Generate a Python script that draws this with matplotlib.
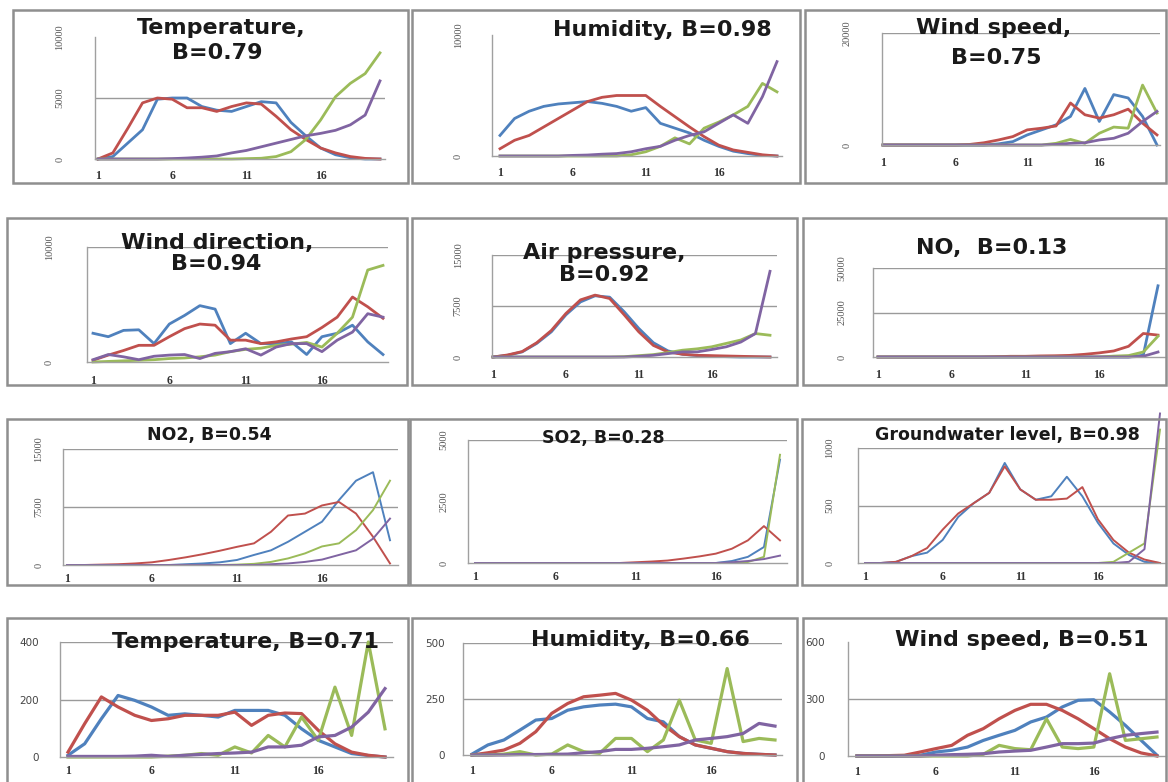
import matplotlib
matplotlib.use("Agg")
import matplotlib.pyplot as plt
from matplotlib.patches import Rectangle

W, H = 1168, 782
DAYS = list(range(1, 21))
X_TICKS = [1, 6, 11, 16]

# row 1
temp1_blue = [0, 200, 1300, 2400, 4900, 5000, 5000, 4300, 4000, 3900, 4300, 4700, 4600, 3000, 1900, 900, 350, 100, 0, 0]
temp1_red = [0, 500, 2500, 4600, 5000, 4900, 4200, 4200, 3900, 4300, 4600, 4500, 3500, 2400, 1600, 900, 500, 200, 50, 0]
temp1_green = [0, 0, 0, 0, 0, 0, 0, 0, 0, 0, 30, 60, 200, 600, 1600, 3200, 5100, 6200, 7000, 8700]
temp1_purple = [0, 0, 0, 0, 0, 30, 80, 150, 250, 500, 700, 1000, 1300, 1600, 1900, 2100, 2350, 2800, 3600, 6400]

hum1_blue = [1700, 3100, 3700, 4100, 4300, 4400, 4500, 4350, 4100, 3700, 4000, 2700, 2300, 1900, 1300, 800, 400, 200, 50, 0]
hum1_red = [600, 1300, 1700, 2400, 3100, 3800, 4500, 4850, 5000, 5000, 5000, 4100, 3250, 2400, 1600, 900, 500, 300, 100, 0]
hum1_green = [0, 0, 0, 0, 0, 0, 0, 0, 0, 100, 350, 800, 1500, 1000, 2300, 2800, 3400, 4100, 6000, 5300]
hum1_purple = [0, 0, 0, 0, 0, 50, 80, 150, 200, 350, 600, 800, 1300, 1700, 2000, 2700, 3400, 2700, 4900, 7800]

wind1_blue = [0, 0, 0, 0, 0, 0, 0, 0, 200, 600, 1800, 2700, 3600, 5100, 10100, 4200, 9000, 8400, 5100, 0]
wind1_red = [0, 0, 0, 0, 0, 0, 100, 400, 900, 1500, 2700, 3000, 3400, 7500, 5400, 4800, 5400, 6400, 3900, 1800]
wind1_green = [0, 0, 0, 0, 0, 0, 0, 0, 0, 0, 0, 0, 300, 1000, 300, 2100, 3200, 3000, 10700, 5700]
wind1_purple = [0, 0, 0, 0, 0, 0, 0, 0, 0, 0, 0, 0, 100, 300, 400, 900, 1200, 2100, 4200, 6000]

# row 2
wdir_blue = [2500, 2200, 2750, 2800, 1600, 3300, 4050, 4900, 4600, 1600, 2500, 1600, 1600, 1750, 650, 2200, 2500, 3200, 1750, 650]
wdir_red = [150, 600, 1000, 1450, 1450, 2200, 2900, 3300, 3200, 1900, 1900, 1600, 1750, 2000, 2200, 3000, 3900, 5650, 4800, 3800]
wdir_green = [0, 50, 100, 150, 200, 300, 350, 450, 600, 900, 1100, 1200, 1450, 1550, 1700, 1300, 2500, 3900, 8000, 8400]
wdir_purple = [200, 650, 450, 200, 500, 600, 650, 300, 750, 900, 1150, 600, 1300, 1600, 1600, 900, 1900, 2600, 4200, 3900]

air_blue = [0, 250, 750, 2000, 3700, 6200, 8100, 9000, 8800, 6650, 4200, 2100, 900, 400, 200, 100, 50, 0, 0, 0]
air_red = [0, 300, 800, 2100, 3900, 6400, 8400, 9100, 8600, 6200, 3700, 1700, 750, 400, 250, 200, 150, 100, 50, 0]
air_green = [0, 0, 0, 0, 0, 0, 0, 0, 0, 50, 200, 350, 650, 1000, 1200, 1500, 2000, 2500, 3450, 3200]
air_purple = [0, 0, 0, 0, 0, 0, 0, 0, 0, 0, 100, 250, 500, 750, 750, 1100, 1500, 2200, 3450, 12600]

no_blue = [0, 0, 0, 0, 0, 0, 0, 0, 0, 0, 0, 0, 0, 0, 0, 0, 0, 0, 1000, 40000]
no_red = [0, 0, 0, 0, 0, 0, 0, 0, 200, 400, 400, 600, 700, 900, 1500, 2300, 3400, 6000, 13200, 12300]
no_green = [0, 0, 0, 0, 0, 0, 0, 0, 0, 0, 0, 0, 0, 0, 0, 0, 500, 800, 2800, 11700]
no_purple = [0, 0, 0, 0, 0, 0, 0, 0, 0, 0, 0, 0, 0, 0, 0, 0, 0, 0, 400, 2800]

# row 3
no2_blue = [0, 0, 0, 0, 0, 0, 0, 100, 200, 350, 650, 1300, 1900, 3000, 4300, 5600, 8400, 10900, 12000, 3200]
no2_red = [0, 0, 50, 100, 200, 350, 650, 1000, 1400, 1850, 2350, 2800, 4300, 6400, 6650, 7700, 8150, 6650, 3650, 200]
no2_green = [0, 0, 0, 0, 0, 0, 0, 0, 0, 0, 50, 150, 400, 850, 1500, 2400, 2800, 4500, 7100, 10900]
no2_purple = [0, 0, 0, 0, 0, 0, 0, 0, 0, 0, 0, 0, 100, 200, 400, 700, 1300, 1900, 3400, 6000]

so2_blue = [0, 0, 0, 0, 0, 0, 0, 0, 0, 0, 0, 0, 0, 0, 0, 0, 80, 250, 650, 4200]
so2_red = [0, 0, 0, 0, 0, 0, 0, 0, 0, 0, 30, 60, 100, 180, 270, 380, 580, 920, 1500, 920]
so2_green = [0, 0, 0, 0, 0, 0, 0, 0, 0, 0, 0, 0, 0, 0, 0, 0, 0, 40, 250, 4400]
so2_purple = [0, 0, 0, 0, 0, 0, 0, 0, 0, 0, 0, 0, 0, 0, 0, 0, 30, 80, 160, 300]

gw_blue = [0, 0, 10, 60, 90, 200, 400, 520, 610, 870, 640, 550, 580, 750, 580, 350, 170, 70, 10, 0]
gw_red = [0, 0, 10, 60, 130, 290, 430, 520, 610, 840, 640, 550, 550, 560, 660, 380, 200, 90, 30, 0]
gw_green = [0, 0, 0, 0, 0, 0, 0, 0, 0, 0, 0, 0, 0, 0, 0, 0, 10, 90, 170, 1160]
gw_purple = [0, 0, 0, 0, 0, 0, 0, 0, 0, 0, 0, 0, 0, 0, 0, 0, 0, 10, 120, 1300]

# row 4
temp2_blue = [6, 46, 133, 214, 197, 174, 145, 150, 145, 139, 162, 162, 162, 145, 98, 58, 35, 12, 5, 0]
temp2_red = [17, 116, 209, 174, 145, 127, 133, 145, 145, 145, 156, 110, 145, 153, 151, 93, 46, 17, 6, 0]
temp2_green = [0, 0, 0, 0, 0, 0, 3, 6, 12, 6, 35, 14, 75, 35, 139, 58, 243, 75, 400, 98]
temp2_purple = [2, 2, 2, 2, 3, 6, 2, 6, 9, 12, 14, 17, 35, 35, 41, 70, 75, 104, 156, 238]

hum2_blue = [4, 45, 67, 111, 156, 163, 200, 215, 223, 227, 215, 163, 148, 82, 45, 30, 15, 7, 3, 0]
hum2_red = [0, 10, 22, 52, 104, 186, 230, 260, 267, 275, 245, 200, 134, 82, 45, 30, 15, 7, 3, 0]
hum2_green = [0, 0, 4, 15, 0, 4, 45, 15, 7, 74, 74, 15, 67, 245, 67, 52, 386, 60, 74, 67]
hum2_purple = [0, 0, 0, 2, 2, 3, 4, 10, 15, 25, 25, 30, 37, 45, 67, 74, 82, 96, 141, 129]

wind2_blue = [0, 0, 0, 2, 4, 21, 30, 47, 82, 109, 135, 179, 205, 258, 293, 296, 232, 161, 82, 4]
wind2_red = [0, 0, 2, 4, 21, 39, 56, 109, 144, 196, 240, 272, 272, 240, 196, 144, 91, 47, 16, 0]
wind2_green = [0, 0, 0, 0, 0, 0, 0, 0, 9, 56, 39, 33, 196, 47, 39, 47, 433, 82, 91, 100]
wind2_purple = [0, 0, 0, 0, 0, 4, 7, 9, 12, 21, 26, 30, 47, 65, 65, 68, 91, 109, 118, 126]

COLORS = ['#4F81BD', '#C0504D', '#9BBB59', '#8064A2']
BORDER = '#8f8f8f'
GRID = '#9a9a9a'

# layout in pixels: border (l, t, r, b), axis box (l, r, top, zero), x of day 1 and day 20
PANELS = [
    dict(series=[temp1_blue, temp1_red, temp1_green, temp1_purple], border=(13, 10, 408, 183),
         box=(95, 385, 37, 159), x1=98, x20=380, ymax=10000, yticks=[0, 5000, 10000], grid=[5000],
         titles=[("Temperature,", 221, 28), ("B=0.79", 217, 53)], tsize=16, ypad=22, xpad=8, lw=2.0),
    dict(series=[hum1_blue, hum1_red, hum1_green, hum1_purple], border=(412, 10, 800, 183),
         box=(492, 782, 35, 156), x1=500, x20=777, ymax=10000, yticks=[0, 10000], grid=[],
         titles=[("Humidity, B=0.98", 662, 30)], tsize=16, ypad=21, xpad=8, lw=2.0),
    dict(series=[wind1_blue, wind1_red, wind1_green, wind1_purple], border=(805, 10, 1166, 183),
         box=(882, 1160, 33, 145), x1=883, x20=1157, ymax=20000, yticks=[0, 20000], grid=[20000],
         titles=[("Wind speed,", 994, 28), ("B=0.75", 996, 58)], tsize=16, ypad=22, xpad=9, lw=2.0),
    dict(series=[wdir_blue, wdir_red, wdir_green, wdir_purple], border=(7, 218, 407, 385),
         box=(87, 388, 247, 362), x1=93, x20=383, ymax=10000, yticks=[0, 10000], grid=[10000],
         titles=[("Wind direction,", 217, 243), ("B=0.94", 216, 264)], tsize=16, ypad=24, xpad=9, lw=2.0),
    dict(series=[air_blue, air_red, air_green, air_purple], border=(412, 218, 797, 385),
         box=(492, 777, 255, 357), x1=493, x20=770, ymax=15000, yticks=[0, 7500, 15000], grid=[7500, 15000],
         titles=[("Air pressure,", 604, 253), ("B=0.92", 604, 275)], tsize=16, ypad=21, xpad=9, lw=2.0),
    dict(series=[no_blue, no_red, no_green, no_purple], border=(803, 218, 1166, 385),
         box=(873, 1166, 268, 357), x1=878, x20=1158, ymax=50000, yticks=[0, 25000, 50000], grid=[25000, 50000],
         titles=[("NO,  B=0.13", 992, 248)], tsize=16, ypad=19, xpad=9, lw=2.0),
    dict(series=[no2_blue, no2_red, no2_green, no2_purple], border=(7, 419, 408, 585),
         box=(63, 398, 449, 565), x1=67, x20=390, ymax=15000, yticks=[0, 7500, 15000], grid=[7500, 15000],
         titles=[("NO2, B=0.54", 209, 435)], tsize=12.5, ypad=14, xpad=6, lw=1.4),
    dict(series=[so2_blue, so2_red, so2_green, so2_purple], border=(410, 419, 797, 585),
         box=(468, 787, 440, 563), x1=475, x20=780, ymax=5000, yticks=[0, 2500, 5000], grid=[5000],
         titles=[("SO2, B=0.28", 603, 438)], tsize=12.5, ypad=14, xpad=6, lw=1.4),
    dict(series=[gw_blue, gw_red, gw_green, gw_purple], border=(802, 419, 1166, 585),
         box=(858, 1166, 448, 563), x1=865, x20=1160, ymax=1000, yticks=[0, 500, 1000], grid=[500, 1000],
         titles=[("Groundwater level, B=0.98", 1007, 435)], tsize=12.5, ypad=17, xpad=6, lw=1.4),
    dict(series=[temp2_blue, temp2_red, temp2_green, temp2_purple], border=(7, 618, 408, 790),
         box=(60, 393, 642, 757), x1=68, x20=385, ymax=400, yticks=[0, 200, 400], grid=[200, 400],
         titles=[("Temperature, B=0.71", 245, 642)], tsize=16, ypad=15, xpad=6, lw=2.3, flat=True),
    dict(series=[hum2_blue, hum2_red, hum2_green, hum2_purple], border=(412, 618, 797, 790),
         box=(463, 782, 643, 755), x1=472, x20=775, ymax=500, yticks=[0, 250, 500], grid=[250, 500],
         titles=[("Humidity, B=0.66", 640, 640)], tsize=16, ypad=13, xpad=7, lw=2.3, flat=True),
    dict(series=[wind2_blue, wind2_red, wind2_green, wind2_purple], border=(803, 618, 1166, 790),
         box=(848, 1166, 642, 756), x1=857, x20=1157, ymax=600, yticks=[0, 300, 600], grid=[300],
         titles=[("Wind speed, B=0.51", 1022, 640)], tsize=16, ypad=17, xpad=7, lw=2.3, flat=True),
]


def draw_panel(fig, p):
    bl, bt, br, bb = p['border']
    fig.add_artist(Rectangle((bl / W, 1 - bb / H), (br - bl) / W, (bb - bt) / H,
                             transform=fig.transFigure, fill=False, edgecolor=BORDER, lw=1.8))

    left, right, top, zero = p['box']
    ax = fig.add_axes([left / W, 1 - zero / H, (right - left) / W, (zero - top) / H])
    ax.patch.set_alpha(0)
    step = (p['x20'] - p['x1']) / 19.0
    ax.set_xlim(1 - (p['x1'] - left) / step, 20 + (right - p['x20']) / step)
    ax.set_ylim(0, p['ymax'])

    for val in p['grid']:
        ax.axhline(val, color=GRID, lw=1.0, zorder=0)
    for values, color in zip(p['series'], COLORS):
        ax.plot(DAYS, values, color=color, lw=p['lw'], clip_on=False, solid_joinstyle='round')

    for side in ['top', 'right']:
        ax.spines[side].set_visible(False)
    for side in ['left', 'bottom']:
        ax.spines[side].set_color('#a0a0a0')
        ax.spines[side].set_linewidth(1.0)

    ax.set_xticks(X_TICKS)
    ax.set_xticklabels([str(t) for t in X_TICKS], family='Liberation Serif',
                       fontweight='bold', fontsize=8.5, color='#333333')
    ax.set_yticks(p['yticks'])
    if p.get('flat'):
        ax.set_yticklabels([str(t) for t in p['yticks']], fontsize=7.5, color='#444444')
    else:
        ax.set_yticklabels([str(t) for t in p['yticks']], family='Liberation Serif',
                           fontsize=7.5, color='#555555', rotation=90, va='center')
    ax.tick_params(axis='x', length=0, pad=p['xpad'])
    ax.tick_params(axis='y', length=0, pad=p['ypad'])

    for text, tx, ty in p['titles']:
        fig.text(tx / W, 1 - ty / H, text, ha='center', va='center',
                 fontsize=p['tsize'], fontweight='bold', color='#1a1a1a')


fig = plt.figure(figsize=(W / 100, H / 100), dpi=100)
for panel in PANELS:
    draw_panel(fig, panel)

fig.savefig('out.png', dpi=100)
